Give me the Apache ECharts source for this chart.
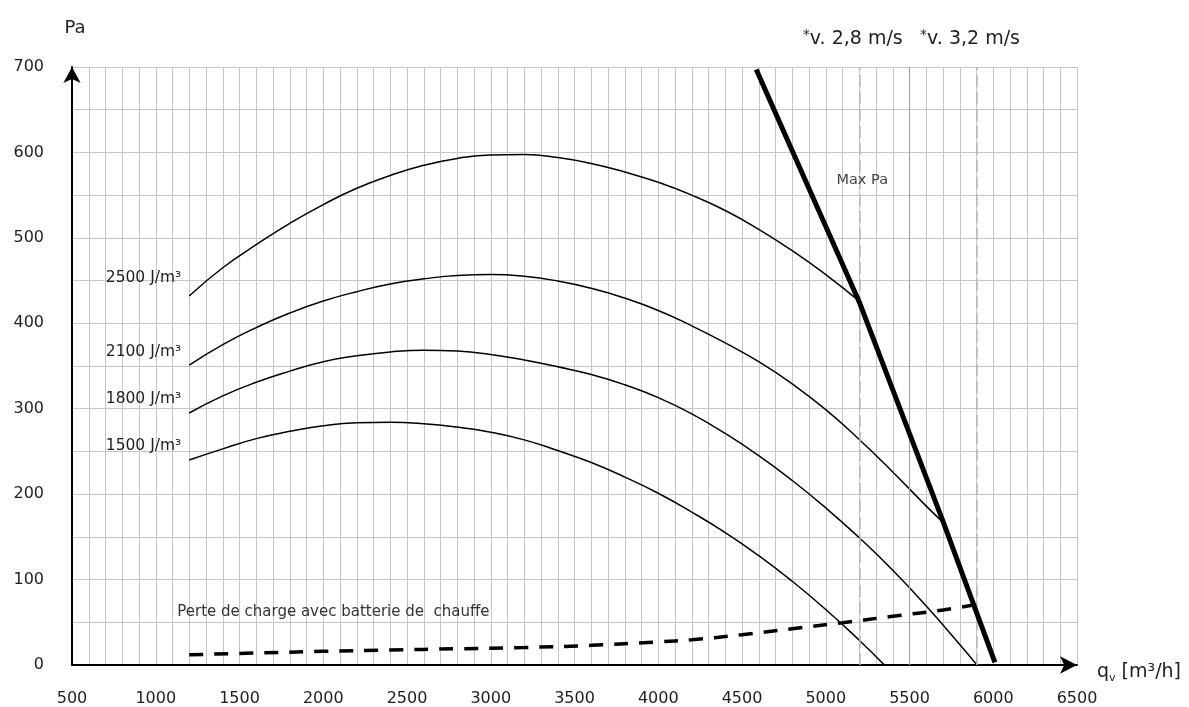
<!DOCTYPE html>
<html><head><meta charset="utf-8">
<script src="https://cdn.jsdelivr.net/npm/echarts@6/dist/echarts.min.js"></script>
<style>html,body{margin:0;padding:0;background:#fff}#c{width:1189px;height:707px}</style>
</head><body><div id="c"></div>
<script>
// ---- data ----
const curveNames = ['2500 J/m³', '2100 J/m³', '1800 J/m³', '1500 J/m³'];
const c2500 = [[1200,432],[1400,465],[1600,492],[1800,517],[2000,539],[2200,558],[2400,573],[2600,585],[2800,593],[3000,597],[3200,597.5],[3400,594],[3600,587],[3800,577],[4000,565],[4200,550],[4400,532],[4600,510],[4800,485],[5000,457],[5200,426]];
const c2100 = [[1200,351],[1400,375],[1600,395],[1800,412],[2000,426],[2200,437],[2400,446],[2600,452],[2800,456],[3000,457],[3200,455],[3400,449.5],[3600,441],[3800,429.5],[4000,415],[4200,397],[4400,377],[4600,355],[4800,329],[5000,299],[5200,264],[5400,226],[5600,186],[5700,167]];
const c1800 = [[1200,295],[1400,315],[1600,331],[1800,344],[2000,355],[2200,362],[2400,366.5],[2600,368.5],[2800,367.5],[3000,363.5],[3200,357],[3400,349],[3600,340],[3800,328],[4000,313],[4200,294],[4400,271],[4600,245],[4800,216],[5000,184],[5200,149],[5400,111],[5600,69],[5800,24],[5903,0]];
const c1500 = [[1200,240],[1400,253],[1600,265],[1800,273.5],[2000,280],[2200,283.5],[2400,284.2],[2600,282.5],[2800,278.5],[3000,272.5],[3200,263.5],[3400,251],[3600,237],[3800,220],[4000,201],[4200,179],[4400,155],[4600,128],[4800,98],[5000,65],[5200,29],[5350,0]];
const lossData = [[1200,12],[1600,14],[2000,16],[2400,17.5],[2800,19],[3200,20.5],[3600,23],[4000,27],[4200,29.5],[4500,35.5],[4800,42.5],[5100,49.5],[5400,57],[5700,64.5],[5890,70.5]];
const maxPaData = [[4585,697],[5200,425],[5700,168],[6010,3]];
const velocityLines = [5200, 5900];
const velocityLabels = ['v. 2,8 m/s', 'v. 3,2 m/s'];
const majorLine = [5500];
const lossLabel = 'Perte de charge avec batterie de  chauffe';
const maxLabel = 'Max Pa';
const yName = 'Pa';
const xName = ['q', 'v', ' [m³/h]'];

// ---- chart ----
const FONT = 'DejaVu Sans';
const TXT = '#1e1e1e';
const GRIDC = '#c6c6c6';
const curves = [c2500, c2100, c1800, c1500];
const labelDy = [-18, -13, -14, -14];

function curveSeries(d, i) {
  return {
    type: 'line', smooth: 0.5, symbol: 'circle', symbolSize: 0, showSymbol: true,
    silent: true, z: 3,
    lineStyle: { color: '#000', width: 1.5 },
    label: { show: false },
    data: d.map((p, k) => k === 0 ? {
      value: p,
      label: { show: true, position: 'left', distance: 8, offset: [0, labelDy[i]],
        formatter: curveNames[i], color: TXT, fontSize: 15.5, fontFamily: FONT }
    } : { value: p })
  };
}

const series = curves.map(curveSeries);

series.push({
  type: 'line', smooth: 0.4, symbol: 'circle', symbolSize: 0, showSymbol: true, silent: true, z: 4,
  lineStyle: { color: '#000', width: 3.5, type: [14, 11] },
  data: lossData.map((p, k) => k === 0 ? {
    value: p,
    label: { show: true, position: 'top', align: 'left', distance: 5, offset: [-12, -30],
      formatter: lossLabel, color: '#333', fontSize: 15, fontFamily: FONT }
  } : { value: p })
});

series.push({
  type: 'line', smooth: false, symbol: 'circle', symbolSize: 0, showSymbol: true, silent: true, z: 5,
  lineStyle: { color: '#000', width: 5 },
  data: maxPaData.map((p, k) => k === 1 ? {
    value: p,
    label: { show: true, position: 'top', distance: 5, offset: [3, -109],
      formatter: maxLabel, color: '#444', fontSize: 14.5, fontFamily: FONT }
  } : { value: p }),
  markLine: {
    silent: true, symbol: 'none', animation: false,
    data: velocityLines.map((v, i) => ({
      xAxis: v,
      lineStyle: { color: '#b8b8b8', width: 1.5, type: [12, 5] },
      label: {
        show: true, position: 'end', distance: 17,
        formatter: '{a|*}{b|' + velocityLabels[i] + '}',
        padding: [0, 13, 0, 0],
        rich: {
          a: { fontSize: 14, fontFamily: FONT, color: TXT, verticalAlign: 'top', lineHeight: 22 },
          b: { fontSize: 19, fontFamily: FONT, color: TXT, lineHeight: 22 }
        }
      }
    })).concat(majorLine.map(v => ({
      xAxis: v, lineStyle: { color: '#a4a4a4', width: 1.2, type: 'solid' }, label: { show: false }
    })))
  }
});

const chart = echarts.init(document.getElementById('c'), null, { renderer: 'canvas' });
chart.setOption({
  animation: false,
  backgroundColor: '#fff',
  grid: { left: 72, right: 112, top: 67, bottom: 42, containLabel: false },
  xAxis: {
    type: 'value', min: 500, max: 6500, interval: 500,
    name: '{q|' + xName[0] + '}{s|' + xName[1] + '}{t|' + xName[2] + '}',
    nameLocation: 'end', nameGap: 20,
    nameTextStyle: {
      padding: [14, 0, 0, 0],
      rich: {
        q: { fontSize: 19, fontFamily: FONT, color: TXT, lineHeight: 24 },
        s: { fontSize: 11, fontFamily: FONT, color: TXT, verticalAlign: 'bottom', lineHeight: 24 },
        t: { fontSize: 19, fontFamily: FONT, color: TXT, lineHeight: 24 }
      }
    },
    axisLine: { show: true, lineStyle: { color: '#000', width: 2 }, symbol: ['none', 'arrow'], symbolSize: [13, 17], symbolOffset: [0, 0] },
    axisTick: { show: false },
    axisLabel: { margin: 26, fontSize: 16, fontFamily: FONT, color: TXT, formatter: v => String(v) },
    splitLine: { show: true, lineStyle: { color: GRIDC, width: 1 } },
    minorTick: { show: false, splitNumber: 5 },
    minorSplitLine: { show: true, lineStyle: { color: GRIDC, width: 1 } }
  },
  yAxis: {
    type: 'value', min: 0, max: 700, interval: 100,
    name: yName, nameLocation: 'end', nameGap: 30,
    nameTextStyle: { fontSize: 18, fontFamily: FONT, color: TXT, padding: [0, 0, 0, 6] },
    axisLine: { show: true, lineStyle: { color: '#000', width: 2 }, symbol: ['none', 'arrow'], symbolSize: [13, 16], symbolOffset: [0, 0] },
    axisTick: { show: false },
    axisLabel: { margin: 28, fontSize: 16, fontFamily: FONT, color: TXT, formatter: v => String(v) },
    splitLine: { show: true, lineStyle: { color: GRIDC, width: 1 } },
    minorTick: { show: false, splitNumber: 2 },
    minorSplitLine: { show: true, lineStyle: { color: GRIDC, width: 1 } }
  },
  series: series
});
</script>
</body></html>
